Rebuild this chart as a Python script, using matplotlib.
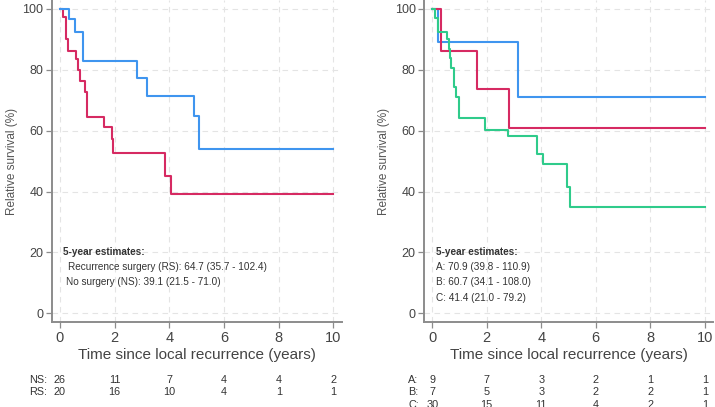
"""Relative survival after local recurrence — two step-curve panels with at-risk tables."""

import matplotlib
import matplotlib.pyplot as plt
from matplotlib.transforms import blended_transform_factory

matplotlib.use("Agg")

plt.rcParams["font.family"] = ["Liberation Sans", "DejaVu Sans"]

# left panel: recurrence surgery vs no surgery
RS_T = [0, 0.34, 0.55, 0.83, 2.83, 3.17, 4.91, 5.09, 10]
RS_S = [100, 96.5, 92.2, 82.9, 77.1, 71.2, 64.9, 54.0, 54.0]
NS_T = [0, 0.12, 0.24, 0.30, 0.585, 0.67, 0.73, 0.91, 0.98, 1.62, 1.91, 1.95,
        3.80, 3.84, 4.05, 10]
NS_S = [100, 97.1, 89.9, 86.2, 83.4, 79.9, 76.3, 72.8, 64.3, 61.3, 57.3, 52.8,
        52.5, 45.1, 39.2, 39.2]

# right panel: groups A, B, C
A_T = [0, 0.22, 3.15, 10]
A_S = [100, 89.1, 71.0, 71.0]
B_T = [0, 0.34, 1.63, 2.82, 10]
B_S = [100, 86.2, 73.5, 60.8, 60.8]
C_T = [0, 0.10, 0.20, 0.55, 0.62, 0.67, 0.70, 0.80, 0.86, 0.99, 1.93, 2.79,
       3.83, 4.07, 4.93, 5.07, 10]
C_S = [100, 96.8, 92.2, 90.0, 86.6, 83.9, 80.4, 74.2, 71.1, 64.0, 60.2, 58.2,
       52.4, 49.0, 41.5, 35.0, 35.0]

RISK_TIMES = [0, 2, 4, 6, 8, 10]
RISK_LEFT = {"NS:": [26, 11, 7, 4, 4, 2], "RS:": [20, 16, 10, 4, 1, 1]}
RISK_RIGHT = {"A:": [9, 7, 3, 2, 1, 1], "B:": [7, 5, 3, 2, 2, 1],
              "C:": [30, 15, 11, 4, 2, 1]}

EST_LEFT = ["Recurrence surgery (RS): 64.7 (35.7 - 102.4)",
            "No surgery (NS): 39.1 (21.5 - 71.0)"]
EST_RIGHT = ["A: 70.9 (39.8 - 110.9)", "B: 60.7 (34.1 - 108.0)",
             "C: 41.4 (21.0 - 79.2)"]

BLUE = "#3f95ef"
RED = "#d62a62"
GREEN = "#2fcb8b"
GREY = "#8c8c8c"
TXT = "#333333"


def style_axes(ax):
    ax.set_xlim(-0.3, 10.3)
    ax.set_ylim(-2.7, 102.7)
    ax.set_xticks(range(0, 11, 2))
    ax.set_yticks(range(0, 101, 20))
    ax.grid(True, color="#e4e4e4", linestyle=(0, (5, 4)), linewidth=0.8)
    ax.set_axisbelow(True)
    for side in ("top", "right"):
        ax.spines[side].set_visible(False)
    for side in ("left", "bottom"):
        ax.spines[side].set_color(GREY)
        ax.spines[side].set_linewidth(1.4)
    ax.tick_params(axis="x", labelsize=10.5, colors="#444444", length=4,
                   width=0.9, pad=3)
    ax.tick_params(axis="y", labelsize=9, colors="#444444", length=4,
                   width=0.9, pad=2)
    ax.tick_params(axis="both", color=GREY)
    ax.set_xlabel("Time since local recurrence (years)", fontsize=11,
                  color="#444444", labelpad=2)
    ax.set_ylabel("Relative survival (%)", fontsize=8.5, color="#555555",
                  labelpad=3)


def risk_table(fig, ax, rows, label_x):
    tr = blended_transform_factory(ax.transData, fig.transFigure)
    y0 = (407 - 380) / 407
    dy = 12.3 / 407
    for k, (lab, vals) in enumerate(rows.items()):
        y = y0 - k * dy
        ax.text(label_x, y, lab, transform=tr, fontsize=7.8, ha="left",
                va="center", color=TXT, clip_on=False)
        for t, v in zip(RISK_TIMES, vals):
            ax.text(t, y, str(v), transform=tr, fontsize=7.8, ha="center",
                    va="center", color=TXT, clip_on=False)


def main():
    fig = plt.figure(figsize=(7.15, 4.07), dpi=100)
    ax1 = fig.add_axes([0.0723, 0.2096, 0.4056, 0.7894])
    ax2 = fig.add_axes([0.593, 0.2096, 0.4042, 0.7894])

    ax1.step(NS_T, NS_S, where="post", color=RED, lw=1.5)
    ax1.step(RS_T, RS_S, where="post", color=BLUE, lw=1.5)
    ax2.step(A_T, A_S, where="post", color=BLUE, lw=1.5)
    ax2.step(B_T, B_S, where="post", color=RED, lw=1.5)
    ax2.step(C_T, C_S, where="post", color=GREEN, lw=1.5)

    for ax in (ax1, ax2):
        style_axes(ax)

    ax1.text(0.12, 20.1, "5-year estimates:", fontsize=7.2, color=TXT,
             va="center", fontweight="semibold")
    ax1.text(0.3, 15.4, EST_LEFT[0], fontsize=7.2, color=TXT, va="center")
    ax1.text(0.24, 10.3, EST_LEFT[1], fontsize=7.2, color=TXT, va="center")

    ax2.text(0.14, 20.1, "5-year estimates:", fontsize=7.2, color=TXT,
             va="center", fontweight="semibold")
    for k, line in enumerate(EST_RIGHT):
        ax2.text(0.14, 15.2 - k * 5.0, line, fontsize=7.2, color=TXT,
                 va="center")

    risk_table(fig, ax1, RISK_LEFT, -1.13)
    risk_table(fig, ax2, RISK_RIGHT, -0.88)

    fig.savefig("out.png", dpi=100)
    plt.close(fig)


if __name__ == "__main__":
    main()
